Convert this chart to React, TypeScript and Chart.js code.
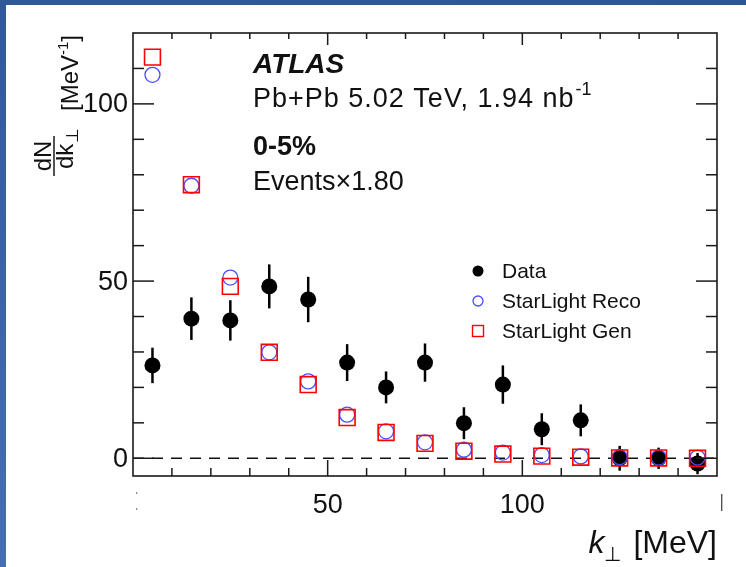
import React, { useEffect, useRef } from "react";
import { Chart, registerables } from "chart.js";

Chart.register(...registerables);

// ---------- data ----------
const kPerp = [5, 15, 25, 35, 45, 55, 65, 75, 85, 95, 105, 115, 125, 135, 145];
const dataValues = [26.2, 39.4, 38.9, 48.5, 44.8, 27.0, 20.0, 27.0, 9.9, 20.8, 8.2, 10.7, 0.0, 0.0, -1.5];
const dataErrors = [5.0, 6.0, 5.7, 6.2, 6.4, 5.2, 4.5, 5.4, 4.5, 5.4, 4.5, 4.5, 3.5, 3.0, 3.0];
const recoValues = [108.2, 76.9, 51.0, 29.9, 21.7, 12.3, 7.6, 4.5, 2.4, 1.6, 0.9, 0.5, 0.3, 0.2, 0.2];
const genValues = [113.2, 77.2, 48.5, 29.9, 20.8, 11.5, 7.3, 4.2, 2.0, 1.2, 0.6, 0.3, 0.1, 0.1, 0.0];

const xMajorTicks = [50, 100];
const xMinorTicks = [10, 20, 30, 40, 60, 70, 80, 90, 110, 120, 130, 140];
const yMajorTicks = [0, 50, 100];
const yMinorTicks = [10, 20, 30, 40, 60, 70, 80, 90, 110];
const xRange = [0, 150];
const yRange = [-5, 120];

const legendLabels = ["Data", "StarLight Reco", "StarLight Gen"];
const FONT = "'Liberation Sans', Arial, Helvetica, sans-serif";

const atlasPlugin = {
  id: "atlasDecor",
  beforeDraw(chart: any) {
    const ctx = chart.ctx;
    ctx.save();
    ctx.fillStyle = "#ffffff";
    ctx.fillRect(0, 0, chart.width, chart.height);
    // blue frame (top & left)
    const gTop = ctx.createLinearGradient(0, 0, chart.width, 0);
    gTop.addColorStop(0, "#2f5a95");
    gTop.addColorStop(1, "#2c5793");
    ctx.fillStyle = gTop;
    ctx.fillRect(0, 0, chart.width, 5);
    const gLeft = ctx.createLinearGradient(0, 0, 0, chart.height);
    gLeft.addColorStop(0, "#2f5a95");
    gLeft.addColorStop(1, "#4670ab");
    ctx.fillStyle = gLeft;
    ctx.fillRect(0, 0, 6, chart.height);
    ctx.restore();
  },
  beforeDatasetsDraw(chart: any) {
    const ctx = chart.ctx;
    const xs = chart.scales.x;
    const ys = chart.scales.y;
    const ca = chart.chartArea;
    ctx.save();
    // dashed zero line
    ctx.strokeStyle = "#111";
    ctx.lineWidth = 1.5;
    ctx.setLineDash([11, 8]);
    const y0 = ys.getPixelForValue(0);
    ctx.beginPath();
    ctx.moveTo(ca.left, y0);
    ctx.lineTo(ca.right, y0);
    ctx.stroke();
    ctx.setLineDash([]);
    // error bars
    ctx.lineWidth = 2.5;
    ctx.strokeStyle = "#000";
    for (let i = 0; i < kPerp.length; i++) {
      const x = xs.getPixelForValue(kPerp[i]);
      const yl = ys.getPixelForValue(dataValues[i] - dataErrors[i]);
      const yh = ys.getPixelForValue(dataValues[i] + dataErrors[i]);
      ctx.beginPath();
      ctx.moveTo(x, yl);
      ctx.lineTo(x, yh);
      ctx.stroke();
    }
    ctx.restore();
  },
  afterDraw(chart: any) {
    const ctx = chart.ctx;
    const xs = chart.scales.x;
    const ys = chart.scales.y;
    const ca = chart.chartArea;
    ctx.save();
    // frame
    ctx.strokeStyle = "#1a1a1a";
    ctx.lineWidth = 1.6;
    ctx.strokeRect(ca.left, ca.top, ca.right - ca.left, ca.bottom - ca.top);
    ctx.lineWidth = 1.5;
    const tick = (x1: number, y1: number, x2: number, y2: number) => {
      ctx.beginPath();
      ctx.moveTo(x1, y1);
      ctx.lineTo(x2, y2);
      ctx.stroke();
    };
    // x ticks
    const xT = (v: number, len: number) => {
      const x = xs.getPixelForValue(v);
      tick(x, ca.bottom, x, ca.bottom - len);
      tick(x, ca.top, x, ca.top + len * 0.75);
    };
    xMajorTicks.forEach((v) => xT(v, 16));
    xMinorTicks.forEach((v) => xT(v, 8));
    const yT = (v: number, len: number) => {
      const y = ys.getPixelForValue(v);
      tick(ca.left, y, ca.left + len, y);
      tick(ca.right, y, ca.right - len, y);
    };
    yMajorTicks.forEach((v) => yT(v, 21));
    yMinorTicks.forEach((v) => yT(v, 11));

    // tick labels
    ctx.fillStyle = "#111";
    ctx.font = `27px ${FONT}`;
    ctx.textAlign = "right";
    ctx.textBaseline = "middle";
    yMajorTicks.forEach((v) => ctx.fillText(String(v), ca.left - 5, ys.getPixelForValue(v) + 1));
    ctx.textAlign = "center";
    xMajorTicks.forEach((v) => ctx.fillText(String(v), xs.getPixelForValue(v), ca.bottom + 30));

    // clipped label remnants at axis ends
    ctx.fillStyle = "#888";
    ctx.fillRect(ca.left + 3, ca.bottom + 16, 1.2, 2);
    ctx.fillRect(ca.left + 3, ca.bottom + 32, 1.2, 2);
    ctx.fillStyle = "#555";
    ctx.fillRect(ca.right + 4, ca.bottom + 18, 1.4, 17);

    // x title
    ctx.fillStyle = "#111";
    ctx.textBaseline = "alphabetic";
    ctx.textAlign = "left";
    ctx.font = `32px ${FONT}`;
    const unit = "[MeV]";
    const uw = ctx.measureText(unit).width;
    const ux = ca.right - uw;
    ctx.fillText(unit, ux, 553);
    ctx.font = `20px ${FONT}`;
    const pw = ctx.measureText("\u22a5").width;
    ctx.fillText("\u22a5", ux - 12 - pw, 561);
    ctx.font = `italic 32px ${FONT}`;
    const kw = ctx.measureText("k").width;
    ctx.fillText("k", ux - 12 - pw - kw, 553);

    // y title (rotated)
    const rot = (text: string, x: number, y: number, font: string, align: CanvasTextAlign = "left") => {
      ctx.save();
      ctx.translate(x, y);
      ctx.rotate(-Math.PI / 2);
      ctx.font = font;
      ctx.textAlign = align;
      ctx.textBaseline = "alphabetic";
      ctx.fillText(text, 0, 0);
      ctx.restore();
      ctx.font = font;
      return ctx.measureText(text).width;
    };
    rot("dN", 51, 156, `24px ${FONT}`, "center");
    ctx.lineWidth = 1.5;
    tick(54, 176, 54, 136);
    const dkw = rot("dk", 73, 169, `24px ${FONT}`);
    rot("\u22a5", 78, 169 - dkw - 1, `17px ${FONT}`);
    let yy = 111;
    const w1 = rot("[MeV", 78, yy, `24px ${FONT}`);
    yy -= w1;
    const w2 = rot("-1", 68, yy, `15px ${FONT}`);
    yy -= w2;
    rot("]", 78, yy, `24px ${FONT}`);

    // annotations
    ctx.textAlign = "left";
    ctx.textBaseline = "alphabetic";
    ctx.font = `italic bold 28px ${FONT}`;
    ctx.fillText("ATLAS", 253, 73);
    ctx.font = `27px ${FONT}`;
    const pbText = "Pb+Pb 5.02 TeV, 1.94 nb";
    (ctx as any).letterSpacing = "1px";
    ctx.fillText(pbText, 253, 107);
    const pbw = ctx.measureText(pbText).width;
    (ctx as any).letterSpacing = "0px";
    ctx.font = `18px ${FONT}`;
    ctx.fillText("-1", 253 + pbw + 1, 95);
    ctx.font = `bold 27px ${FONT}`;
    ctx.fillText("0-5%", 253, 155);
    ctx.font = `27px ${FONT}`;
    ctx.fillText("Events\u00d71.80", 253, 190);

    // legend
    const lx = 478;
    const lys = [271, 301, 331];
    ctx.font = `21px ${FONT}`;
    ctx.textBaseline = "middle";
    legendLabels.forEach((t, i) => ctx.fillText(t, 502, lys[i] + 1));
    ctx.fillStyle = "#000";
    ctx.beginPath();
    ctx.arc(lx, lys[0], 5.5, 0, Math.PI * 2);
    ctx.fill();
    ctx.strokeStyle = "#4d4dff";
    ctx.lineWidth = 1.3;
    ctx.beginPath();
    ctx.arc(lx, lys[1], 5, 0, Math.PI * 2);
    ctx.stroke();
    ctx.strokeStyle = "#ff0000";
    ctx.lineWidth = 1.4;
    ctx.strokeRect(lx - 5.5, lys[2] - 5.5, 11, 11);
    ctx.restore();
  },
};

export default function App() {
  const ref = useRef<HTMLCanvasElement | null>(null);
  useEffect(() => {
    if (!ref.current) return;
    const mk = (vals: number[]) => kPerp.map((x, i) => ({ x, y: vals[i] }));
    const chart = new Chart(ref.current, {
      type: "scatter",
      data: {
        datasets: [
          {
            label: legendLabels[2],
            data: mk(genValues),
            pointStyle: "rect",
            pointRadius: 11.2,
            backgroundColor: "rgba(0,0,0,0)",
            borderColor: "#ff0000",
            borderWidth: 1.6,
            order: 1,
          },
          {
            label: legendLabels[1],
            data: mk(recoValues),
            pointStyle: "circle",
            pointRadius: 7.5,
            backgroundColor: "rgba(0,0,0,0)",
            borderColor: "#4d4dff",
            borderWidth: 1.3,
            order: 2,
          },
          {
            label: legendLabels[0],
            data: mk(dataValues),
            pointStyle: "circle",
            pointRadius: 8,
            backgroundColor: "#000",
            borderColor: "#000",
            borderWidth: 0,
            order: 3,
          },
        ],
      },
      options: {
        animation: false,
        responsive: false,
        devicePixelRatio: 1,
        layout: { padding: { left: 133, top: 33, right: 29, bottom: 91 } },
        scales: {
          x: { type: "linear", min: xRange[0], max: xRange[1], display: false },
          y: { type: "linear", min: yRange[0], max: yRange[1], display: false },
        },
        plugins: { legend: { display: false }, tooltip: { enabled: false } },
        events: [],
      },
      plugins: [atlasPlugin],
    });
    return () => chart.destroy();
  }, []);
  return (
    <div style={{ position: "fixed", left: 0, top: 0, width: 746, height: 567, background: "#fff" }}>
      <canvas ref={ref} width={746} height={567} style={{ width: 746, height: 567, display: "block" }} />
    </div>
  );
}
